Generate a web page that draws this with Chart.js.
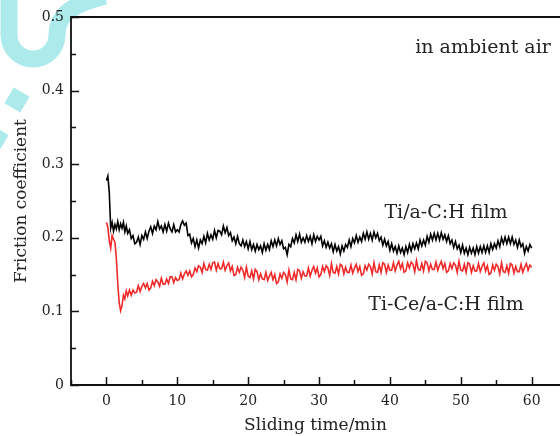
<!DOCTYPE html>
<html>
<head>
<meta charset="utf-8">
<script src="https://cdn.jsdelivr.net/npm/chart.js@4.4.1/dist/chart.umd.min.js"></script>
<style>
html,body{margin:0;padding:0;background:#fff;overflow:hidden}
canvas{display:block}
</style>
</head>
<body>
<canvas id="c" width="560" height="436"></canvas>
<script>
// sliding time (min) and friction coefficient
const timeMin = [
  0,0.2,0.4,0.6,0.8,1.0,1.2,1.4,1.6,1.8,2.0,2.2,2.4,2.6,2.8,3.0,
  3.25,3.5,3.75,4, 4.25,4.5,4.75,5, 5.25,5.5,5.75,6, 6.25,6.5,6.75,7,
  7.25,7.5,7.75,8, 8.25,8.5,8.75,9, 9.25,9.5,9.75,10, 10.25,10.5,10.75,11,
  11.25,11.5,11.75,12, 12.25,12.5,12.75,13, 13.25,13.5,13.75,14, 14.25,14.5,14.75,15,
  15.25,15.5,15.75,16, 16.25,16.5,16.75,17, 17.25,17.5,17.75,18, 18.25,18.5,18.75,19,
  19.25,19.5,19.75,20, 20.25,20.5,20.75,21, 21.25,21.5,21.75,22, 22.25,22.5,22.75,23,
  23.25,23.5,23.75,24, 24.25,24.5,24.75,25, 25.25,25.5,25.75,26, 26.25,26.5,26.75,27,
  27.25,27.5,27.75,28, 28.25,28.5,28.75,29, 29.25,29.5,29.75,30, 30.25,30.5,30.75,31,
  31.25,31.5,31.75,32, 32.25,32.5,32.75,33, 33.25,33.5,33.75,34, 34.25,34.5,34.75,35,
  35.25,35.5,35.75,36, 36.25,36.5,36.75,37, 37.25,37.5,37.75,38, 38.25,38.5,38.75,39,
  39.25,39.5,39.75,40, 40.25,40.5,40.75,41, 41.25,41.5,41.75,42, 42.25,42.5,42.75,43,
  43.25,43.5,43.75,44, 44.25,44.5,44.75,45, 45.25,45.5,45.75,46, 46.25,46.5,46.75,47,
  47.25,47.5,47.75,48, 48.25,48.5,48.75,49, 49.25,49.5,49.75,50, 50.25,50.5,50.75,51,
  51.25,51.5,51.75,52, 52.25,52.5,52.75,53, 53.25,53.5,53.75,54, 54.25,54.5,54.75,55,
  55.25,55.5,55.75,56, 56.25,56.5,56.75,57, 57.25,57.5,57.75,58, 58.25,58.5,58.75,59,
  59.25,59.5,59.75,60
];
const tiFilm = [
  0.278,0.284,0.262,0.213,0.221,0.209,0.218,0.212,0.222,0.211,0.219,0.213,0.221,0.208,0.216,0.206,
  0.211,0.199,0.203,0.192, 0.194,0.201,0.191,0.203, 0.198,0.208,0.199,0.209, 0.215,0.206,0.216,0.211,
  0.222,0.212,0.216,0.208, 0.218,0.209,0.220,0.212, 0.208,0.218,0.208,0.211, 0.208,0.218,0.223,0.217,
  0.220,0.203,0.205,0.193, 0.199,0.188,0.197,0.186, 0.197,0.192,0.202,0.193, 0.206,0.197,0.204,0.198,
  0.210,0.200,0.210,0.209, 0.204,0.216,0.207,0.214, 0.203,0.207,0.196,0.201, 0.192,0.202,0.192,0.189,
  0.197,0.188,0.195,0.185, 0.195,0.184,0.191,0.182, 0.191,0.184,0.189,0.180, 0.192,0.183,0.191,0.184,
  0.196,0.188,0.197,0.189, 0.199,0.191,0.196,0.185, 0.187,0.177,0.191,0.188, 0.199,0.193,0.204,0.195,
  0.205,0.194,0.200,0.194, 0.203,0.195,0.202,0.192, 0.204,0.195,0.202,0.197, 0.202,0.189,0.196,0.187,
  0.194,0.186,0.192,0.181, 0.191,0.182,0.188,0.178, 0.189,0.182,0.191,0.187, 0.197,0.188,0.199,0.193,
  0.203,0.194,0.201,0.195, 0.206,0.198,0.208,0.198, 0.206,0.197,0.208,0.200, 0.206,0.196,0.201,0.190,
  0.198,0.189,0.195,0.183, 0.192,0.182,0.188,0.179, 0.189,0.180,0.186,0.177, 0.188,0.180,0.191,0.182,
  0.192,0.185,0.193,0.185, 0.197,0.189,0.197,0.190, 0.202,0.194,0.205,0.197, 0.206,0.197,0.206,0.197,
  0.207,0.198,0.204,0.195, 0.203,0.192,0.197,0.187, 0.195,0.185,0.190,0.180, 0.190,0.179,0.186,0.177,
  0.187,0.179,0.186,0.177, 0.188,0.179,0.188,0.180, 0.189,0.180,0.189,0.180, 0.192,0.184,0.192,0.186,
  0.196,0.188,0.200,0.192, 0.201,0.192,0.201,0.192, 0.201,0.191,0.197,0.187, 0.197,0.188,0.192,0.179,
  0.188,0.182,0.191,0.186
];
const tiCeFilm = [
  0.221,0.214,0.196,0.186,0.203,0.198,0.194,0.172,0.138,0.112,0.101,0.108,0.122,0.117,0.128,0.121,
  0.129,0.122,0.129,0.125, 0.126,0.135,0.127,0.134, 0.138,0.132,0.138,0.129, 0.132,0.141,0.135,0.143,
  0.140,0.134,0.145,0.137, 0.137,0.144,0.138,0.147, 0.147,0.139,0.146,0.142, 0.143,0.152,0.144,0.151,
  0.155,0.149,0.155,0.147, 0.150,0.159,0.154,0.162, 0.160,0.153,0.165,0.157, 0.156,0.164,0.157,0.166,
  0.167,0.156,0.165,0.158, 0.158,0.167,0.156,0.162, 0.166,0.155,0.161,0.149, 0.150,0.160,0.153,0.160,
  0.156,0.146,0.160,0.148, 0.146,0.155,0.144,0.157, 0.154,0.143,0.151,0.144, 0.143,0.153,0.142,0.148,
  0.153,0.143,0.150,0.138, 0.140,0.151,0.145,0.153, 0.150,0.140,0.156,0.144, 0.143,0.153,0.143,0.157,
  0.155,0.145,0.154,0.148, 0.148,0.159,0.148,0.156, 0.161,0.152,0.159,0.147, 0.150,0.161,0.154,0.162,
  0.159,0.149,0.165,0.153, 0.152,0.161,0.151,0.164, 0.162,0.151,0.160,0.153, 0.153,0.163,0.152,0.159,
  0.164,0.154,0.161,0.149, 0.151,0.162,0.156,0.164, 0.161,0.151,0.166,0.154, 0.153,0.163,0.153,0.166,
  0.164,0.153,0.163,0.156, 0.156,0.166,0.155,0.163, 0.168,0.158,0.165,0.153, 0.155,0.166,0.159,0.167,
  0.164,0.154,0.169,0.157, 0.156,0.165,0.155,0.168, 0.166,0.155,0.164,0.157, 0.157,0.167,0.156,0.163,
  0.168,0.158,0.165,0.153, 0.155,0.165,0.158,0.166, 0.163,0.153,0.168,0.156, 0.155,0.164,0.153,0.166,
  0.164,0.153,0.162,0.155, 0.155,0.165,0.154,0.161, 0.166,0.155,0.162,0.150, 0.152,0.163,0.156,0.164,
  0.161,0.151,0.166,0.154, 0.153,0.162,0.152,0.165, 0.163,0.152,0.161,0.154, 0.154,0.164,0.153,0.160,
  0.165,0.156,0.163,0.160
];

const xMajor = [0,10,20,30,40,50,60];
const xMinor = [-5,5,15,25,35,45,55];
const yMajor = [0,0.1,0.2,0.3,0.4,0.5];
const yMinor = [0.05,0.15,0.25,0.35,0.45];

const seriesNames = ['Ti-Ce/a-C:H film','Ti/a-C:H film'];
const noteText = 'in ambient air';

const SERIF = "'DejaVu Serif', serif";
const INK = '#222';

// watermark, frame, inward ticks and in-plot labels
const figurePlugin = {
  id:'figure',
  beforeDraw(chart){
    const ctx=chart.ctx;
    ctx.save();
    ctx.fillStyle='#fff';
    ctx.fillRect(0,0,chart.width,chart.height);
    ctx.strokeStyle='rgb(172,234,236)';
    ctx.fillStyle='rgb(172,234,236)';
    ctx.lineWidth=17;
    ctx.lineCap='butt';
    ctx.beginPath();
    ctx.moveTo(9,-10);
    ctx.lineTo(9,35);
    ctx.arc(33,35,24,Math.PI,0,true);
    ctx.bezierCurveTo(57,18,66,6,105,-4);
    ctx.stroke();
    const diamond=(cx,cy,r,a)=>{
      ctx.beginPath();
      for(let k=0;k<4;k++){
        const ang=a+k*Math.PI/2;
        const px=cx+r*Math.cos(ang), py=cy+r*Math.sin(ang);
        k?ctx.lineTo(px,py):ctx.moveTo(px,py);
      }
      ctx.closePath();ctx.fill();
    };
    diamond(17,100,13,-0.25);
    diamond(-3,138,12,-0.25);
    ctx.restore();
  },
  afterDraw(chart){
    const {ctx,chartArea:a,scales:{x,y}}=chart;
    ctx.save();
    ctx.strokeStyle='#111';
    ctx.lineWidth=1.8;
    ctx.beginPath();
    ctx.moveTo(a.left,a.top);ctx.lineTo(a.right+2,a.top);
    ctx.moveTo(a.left,a.top-1);ctx.lineTo(a.left,a.bottom);ctx.lineTo(a.right+2,a.bottom);
    ctx.stroke();
    ctx.lineWidth=1.5;
    ctx.beginPath();
    xMajor.forEach(v=>{const p=Math.round(x.getPixelForValue(v))+0.5;ctx.moveTo(p,a.bottom);ctx.lineTo(p,a.bottom-8);});
    xMinor.forEach(v=>{const p=Math.round(x.getPixelForValue(v))+0.5;ctx.moveTo(p,a.bottom);ctx.lineTo(p,a.bottom-5);});
    yMajor.forEach(v=>{const p=Math.round(y.getPixelForValue(v))+0.5;ctx.moveTo(a.left,p);ctx.lineTo(a.left+8,p);});
    yMinor.forEach(v=>{const p=Math.round(y.getPixelForValue(v))+0.5;ctx.moveTo(a.left,p);ctx.lineTo(a.left+5,p);});
    ctx.stroke();

    ctx.fillStyle=INK;
    ctx.font="19px "+SERIF;
    ctx.textAlign='center';
    ctx.textBaseline='alphabetic';
    ctx.fillText(noteText,483,53);
    ctx.fillText(seriesNames[1],446,218);
    ctx.fillText(seriesNames[0],446,310);
    ctx.restore();
  }
};

const toPoints=vals=>timeMin.map((t,i)=>({x:t,y:vals[i]}));

new Chart(document.getElementById('c'),{
  type:'line',
  data:{datasets:[
    {label:seriesNames[0],data:toPoints(tiCeFilm),borderColor:'#f02a2a',borderWidth:1.6,pointRadius:0,tension:0},
    {label:seriesNames[1],data:toPoints(tiFilm),borderColor:'#000',borderWidth:1.6,pointRadius:0,tension:0}
  ]},
  options:{
    responsive:false,animation:false,
    layout:{padding:{top:17,right:0,bottom:0,left:0}},
    plugins:{legend:{display:false},tooltip:{enabled:false}},
    scales:{
      x:{
        type:'linear',min:-5,max:64,
        grid:{display:false,drawTicks:false},border:{display:false},
        afterBuildTicks:s=>{s.ticks=xMajor.map(v=>({value:v}));},
        afterFit:s=>{s.height=51;},
        ticks:{padding:8,color:INK,font:{family:SERIF,size:14},maxRotation:0},
        title:{display:true,text:'Sliding time/min',color:INK,font:{family:SERIF,size:17},padding:{top:0,bottom:0}}
      },
      y:{
        min:0,max:0.5,
        grid:{display:false,drawTicks:false},border:{display:false},
        afterBuildTicks:s=>{s.ticks=yMajor.map(v=>({value:v}));},
        afterFit:s=>{s.width=71;},
        ticks:{padding:7,color:INK,font:{family:SERIF,size:14}},
        title:{display:true,text:'Friction coefficient',color:INK,font:{family:SERIF,size:17},padding:{top:11,bottom:0}}
      }
    }
  },
  plugins:[figurePlugin]
});
</script>
</body>
</html>
